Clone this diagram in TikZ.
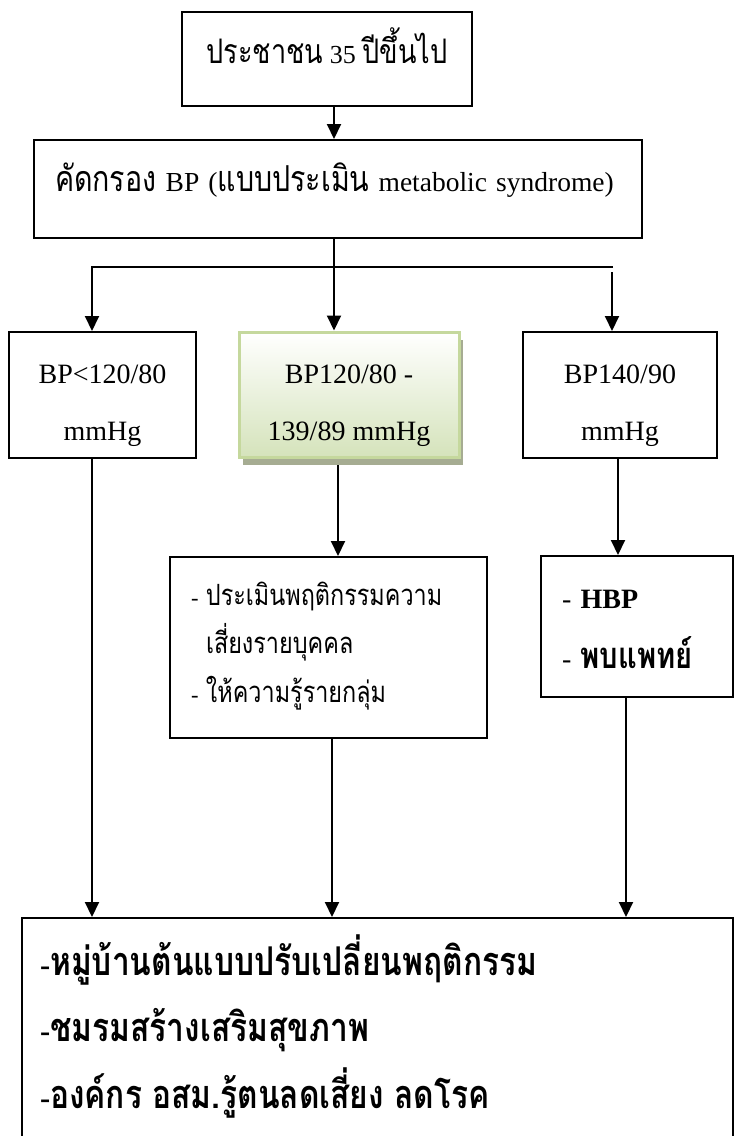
\documentclass[tikz,border=0pt]{standalone}
\usepackage{fontspec}
\setmainfont{Liberation Serif}
\newfontfamily\thai[Script=Thai,Scale=1.3,FakeStretch=0.8]{Loma}
\usetikzlibrary{arrows.meta,shadows}

\definecolor{greenline}{HTML}{C5D89D}
\definecolor{greenfill}{HTML}{D5E3BB}
\definecolor{greenshade}{HTML}{A6AC92}

\begin{document}
\begin{tikzpicture}[x=1pt,y=-1pt]
	\tikzstyle{every node}+=[inner sep=0pt,text height=10pt]
	\tikzstyle{box}=[draw=black,line width=2pt,align=center]
	\tikzstyle{arr}=[black,line width=2pt,-{Triangle[length=15pt,width=14pt]}]
	\useasboundingbox (0,0) rectangle (734,1136);
	% boxes
	\node [box,minimum width=290pt,minimum height=94pt,text depth=2pt,font=\fontsize{26}{30}\selectfont] (people) at (327,59) {{\thai ประชาชน} 35 {\thai ปีขึ้นไป}};
	\node [box,align=left,text width=566pt,inner xsep=21pt,minimum height=98pt,text depth=6pt,font=\fontsize{27.5}{34}\selectfont] (screen) at (338,189) {{\thai คัดกรอง} BP ({\thai แบบประเมิน} metabolic syndrome)};
	\node [box,minimum width=187pt,minimum height=126pt,text height=100pt,text depth=10pt,font=\fontsize{28}{57}\selectfont] (lowbp) at (102.5,395) {BP<120/80\\mmHg};
	\node [box,draw=greenline,line width=3pt,top color=white,bottom color=greenfill,drop shadow={shadow xshift=4pt,shadow yshift=-8pt,fill=greenshade,opacity=1},minimum width=220pt,minimum height=125pt,text height=101pt,text depth=10pt,font=\fontsize{28}{57}\selectfont] (midbp) at (349,394.5) {BP120/80 -\\139/89 mmHg};
	\node [box,minimum width=194pt,minimum height=126pt,text height=100pt,text depth=10pt,font=\fontsize{28}{57}\selectfont] (highbp) at (620,395) {BP140/90\\mmHg};
	\node [box,align=left,text width=275pt,inner xsep=21pt,minimum height=181pt,text depth=95pt,font=\fontsize{22.5}{48.5}\selectfont] (advice) at (328.5,647.5) {- {\thai ประเมินพฤติกรรมความ}\\\hspace*{15pt}{\thai เสี่ยงรายบุคคล}\\- {\thai ให้ความรู้รายกลุ่ม}};
	\node [box,align=left,text width=150pt,inner xsep=21pt,minimum height=141pt,text depth=47pt,font=\fontsize{28}{60}\selectfont] (doctor) at (637,626.5) {- \textbf{HBP}\\- {\thai\bfseries พบแพทย์}};
	\node [box,align=left,text width=675pt,inner xsep=18pt,minimum height=230pt,text depth=126pt,font=\fontsize{30.5}{66.5}\selectfont\bfseries] (community) at (377.5,1033) {-{\thai หมู่บ้านต้นแบบปรับเปลี่ยนพฤติกรรม}\\-{\thai ชมรมสร้างเสริมสุขภาพ}\\-{\thai องค์กร อสม.รู้ตนลดเสี่ยง ลดโรค}};
	% connectors
	\coordinate (spine) at (334,0);
	\coordinate (forkl) at (92,267);
	\coordinate (forkr) at (613,267);
	\coordinate (dropr) at (612,272);
	\coordinate (midfoot) at (338,465);
	\coordinate (advx) at (332,0);
	\coordinate (hix) at (618,0);
	\coordinate (docx) at (626,0);
	\draw [arr] (people.south -| spine) -- (screen.north -| spine);
	\draw [arr] (screen.south -| spine) -- (midbp.north -| spine);
	\draw [arr] (forkr) -- (forkl) -- (lowbp.north -| forkl);
	\draw [arr] (dropr) -- (highbp.north -| dropr);
	\draw [arr] (lowbp.south -| forkl) -- (community.north -| forkl);
	\draw [arr] (midfoot) -- (advice.north -| midfoot);
	\draw [arr] (advice.south -| advx) -- (community.north -| advx);
	\draw [arr] (highbp.south -| hix) -- (doctor.north -| hix);
	\draw [arr] (doctor.south -| docx) -- (community.north -| docx);
\end{tikzpicture}
\end{document}
